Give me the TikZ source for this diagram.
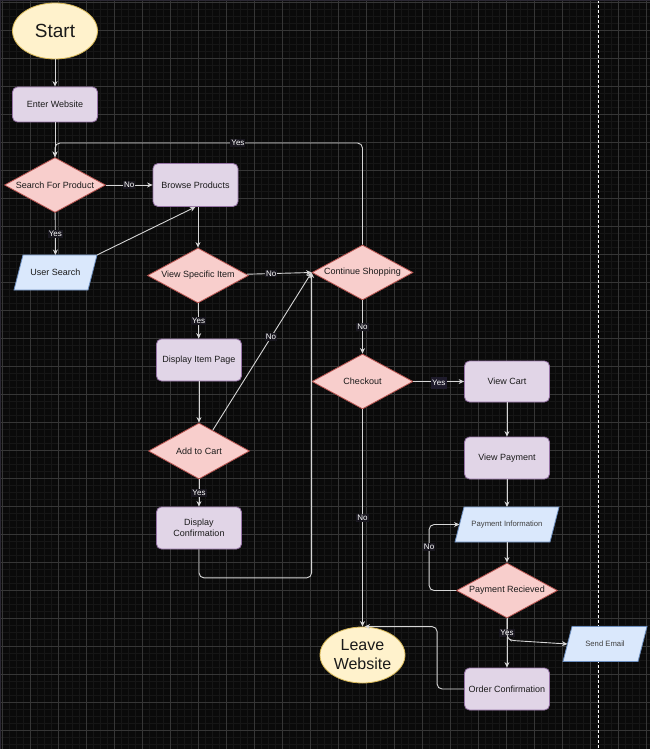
\documentclass[tikz,border=0pt]{standalone}
\usepackage{fontspec}
\setmainfont{Liberation Sans}
\usetikzlibrary{shapes.geometric,arrows.meta,calc,backgrounds}

\definecolor{bgc}{HTML}{0A0A0A}
\definecolor{gmin}{HTML}{161616}
\definecolor{gmaj}{HTML}{363636}
\definecolor{yfill}{HTML}{FFF2CC}
\definecolor{ydraw}{HTML}{D6B656}
\definecolor{pfill}{HTML}{E1D5E7}
\definecolor{pdraw}{HTML}{9673A6}
\definecolor{rfill}{HTML}{F8CECC}
\definecolor{rdraw}{HTML}{B85450}
\definecolor{bfill}{HTML}{DAE8FC}
\definecolor{bdraw}{HTML}{6C8EBF}
\definecolor{edgec}{HTML}{D6D6D6}
\definecolor{lblbg}{HTML}{18161E}
\definecolor{lblbgb}{HTML}{1E1B2B}
\definecolor{txt}{HTML}{1A1A1A}
\definecolor{txtg}{HTML}{404040}
\definecolor{frame}{HTML}{2B2833}

\newcommand\drawiobox[1]{%
  \filldraw[fill=bfill,draw=bdraw,line width=0.8pt]
    ($(#1.south west)+(-4.5,0)$) -- ($(#1.north west)+(4.5,0)$) --
    ($(#1.north east)+(4.5,0)$) -- ($(#1.south east)+(-4.5,0)$) -- cycle;}

\begin{document}
\begin{tikzpicture}[x=1pt,y=-1pt,
  term/.style={ellipse, draw=ydraw, fill=yfill, line width=0.8pt, minimum width=85pt,
    minimum height=56pt, inner sep=0pt, text=txt, align=center},
  proc/.style={rectangle, rounded corners=5pt, draw=pdraw, fill=pfill, line width=0.8pt,
    minimum width=85pt, minimum height=42pt, inner sep=0pt, text=txt,
    font=\fontsize{9}{10.7}\selectfont, align=center},
  dec/.style={diamond, draw=rdraw, fill=rfill, line width=0.8pt, minimum width=101pt,
    minimum height=55pt, inner sep=0pt, shape aspect=2, text=txt,
    font=\fontsize{9}{10.7}\selectfont},
  io/.style={rectangle, draw=none, minimum height=35pt, inner sep=0pt, outer sep=0pt,
    text=txt, font=\fontsize{9}{10.7}\selectfont},
  arr/.style={draw=edgec, line width=0.9pt, -{Stealth[length=5.5pt,width=5pt]},
    rounded corners=5pt},
  lbl/.style={fill=lblbg, text=white, font=\fontsize{8}{9}\selectfont, inner sep=1pt,
    rounded corners=0pt},
]
\useasboundingbox (0,0) rectangle (650,749);

\begin{pgfonlayer}{background}
  \fill[bgc] (0,0) rectangle (650,749);
  \foreach \i in {0,...,92} \draw[gmin, line width=0.5pt] ({2.3+7*\i},0) -- ({2.3+7*\i},749);
  \foreach \i in {0,...,106} \draw[gmin, line width=0.5pt] (0,{2+7*\i}) -- (650,{2+7*\i});
  \foreach \i in {0,...,23} \draw[gmaj, line width=0.7pt] ({2.3+28*\i},0) -- ({2.3+28*\i},749);
  \foreach \i in {0,...,26} \draw[gmaj, line width=0.7pt] (0,{2+28*\i}) -- (650,{2+28*\i});
  \draw[white, line width=0.8pt, dash pattern=on 3pt off 2pt] (598,0) -- (598,749);
  \fill[frame] (0,0) rectangle (650,1.5);
  \fill[frame] (0,0) rectangle (1,749);
\end{pgfonlayer}

% nodes
\node[term, font=\fontsize{19}{22}\selectfont] (start) at (55,31) {Start};
\node[proc, minimum height=35pt] (enter) at (55,104.5) {Enter Website};
\node[dec] (search) at (55,185) {Search For Product};
\node[proc, minimum height=43pt] (browse) at (195.5,185) {Browse Products};
\node[io, minimum width=74pt] (user) at (55.5,272.5) {User Search};
\node[dec] (view) at (198,275.5) {View Specific Item};
\node[dec] (cont) at (362.5,272.5) {Continue Shopping};
\node[proc] (item) at (199,360) {Display Item Page};
\node[dec, minimum height=56pt] (cart) at (199,451) {Add to Cart};
\node[proc] (conf) at (199,528) {Display\\Confirmation};
\node[dec] (checkout) at (362.5,381.5) {Checkout};
\node[proc, minimum height=41pt] (vcart) at (507,381.5) {View Cart};
\node[proc] (vpay) at (507,458) {View Payment};
\node[io, minimum width=95pt, text=txtg, font=\fontsize{7.7}{9}\selectfont] (pinfo) at (507,524.5) {Payment Information};
\node[dec] (prec) at (507,590.5) {Payment Recieved};
\node[io, minimum width=75pt, text=txtg, font=\fontsize{7.7}{9}\selectfont] (email) at (605,644) {Send Email};
\node[term, font=\fontsize{16}{19}\selectfont] (leave) at (362.5,655) {Leave\\Website};
\node[proc] (order) at (507,689) {Order Confirmation};

\begin{pgfonlayer}{background}
  \drawiobox{user}
  \drawiobox{pinfo}
  \drawiobox{email}
\end{pgfonlayer}

% connectors
\coordinate (yestop) at (55,143);
\draw[arr] (start) -- (enter);
\draw[arr] (enter) -- (search);
\draw[arr] (cont.north) -- (cont.north |- yestop) -- node[lbl, pos=0.405] {Yes} (yestop) -- (search.north);
\draw[arr] (search) -- node[lbl] {No} (browse);
\draw[arr] (search) -- node[lbl] {Yes} (user);
\draw[arr] ($(user.north east)+(4.5,0)$) -- (browse.south);
\draw[arr] (browse.south -| view.north) -- (view.north);
\draw[arr] (view) -- node[lbl, pos=0.38] {No} (cont.west);
\draw[arr] (view) -- node[lbl] {Yes} (item);
\draw[arr] (item) -- (cart);
\draw[arr] ($(cart.north)!0.27!(cart.east)$) -- node[lbl, pos=0.59] {No} (cont.west);
\draw[arr] (cart) -- node[lbl] {Yes} (conf);
\draw[arr] (conf.south) -- ++(0,28.5) -| (cont.west);
\draw[arr] (cont) -- node[lbl] {No} (checkout);
\draw[arr] (checkout) -- node[lbl, fill=lblbgb, inner xsep=1.5pt, inner ysep=3pt, yshift=-1.5pt] {Yes} (vcart);
\draw[arr] (checkout) -- node[lbl] {No} (leave);
\draw[arr] (vcart) -- (vpay);
\draw[arr] (vpay) -- (pinfo);
\draw[arr] (pinfo) -- (prec);
\draw[arr] (prec.west) -- ++(-27,0) |- node[lbl, pos=0.33] {No} (pinfo.west);
\draw[arr] (prec) -- node[lbl, pos=0.3] {Yes} (order);
\draw[arr, rounded corners=3pt] (prec.south) -- ++(0,19) -- ++(4,3) -- (email.west);
\draw[arr] (order.west) -- ++(-27,0) |- ($(leave.north)+(2,0)$);
\end{tikzpicture}
\end{document}
